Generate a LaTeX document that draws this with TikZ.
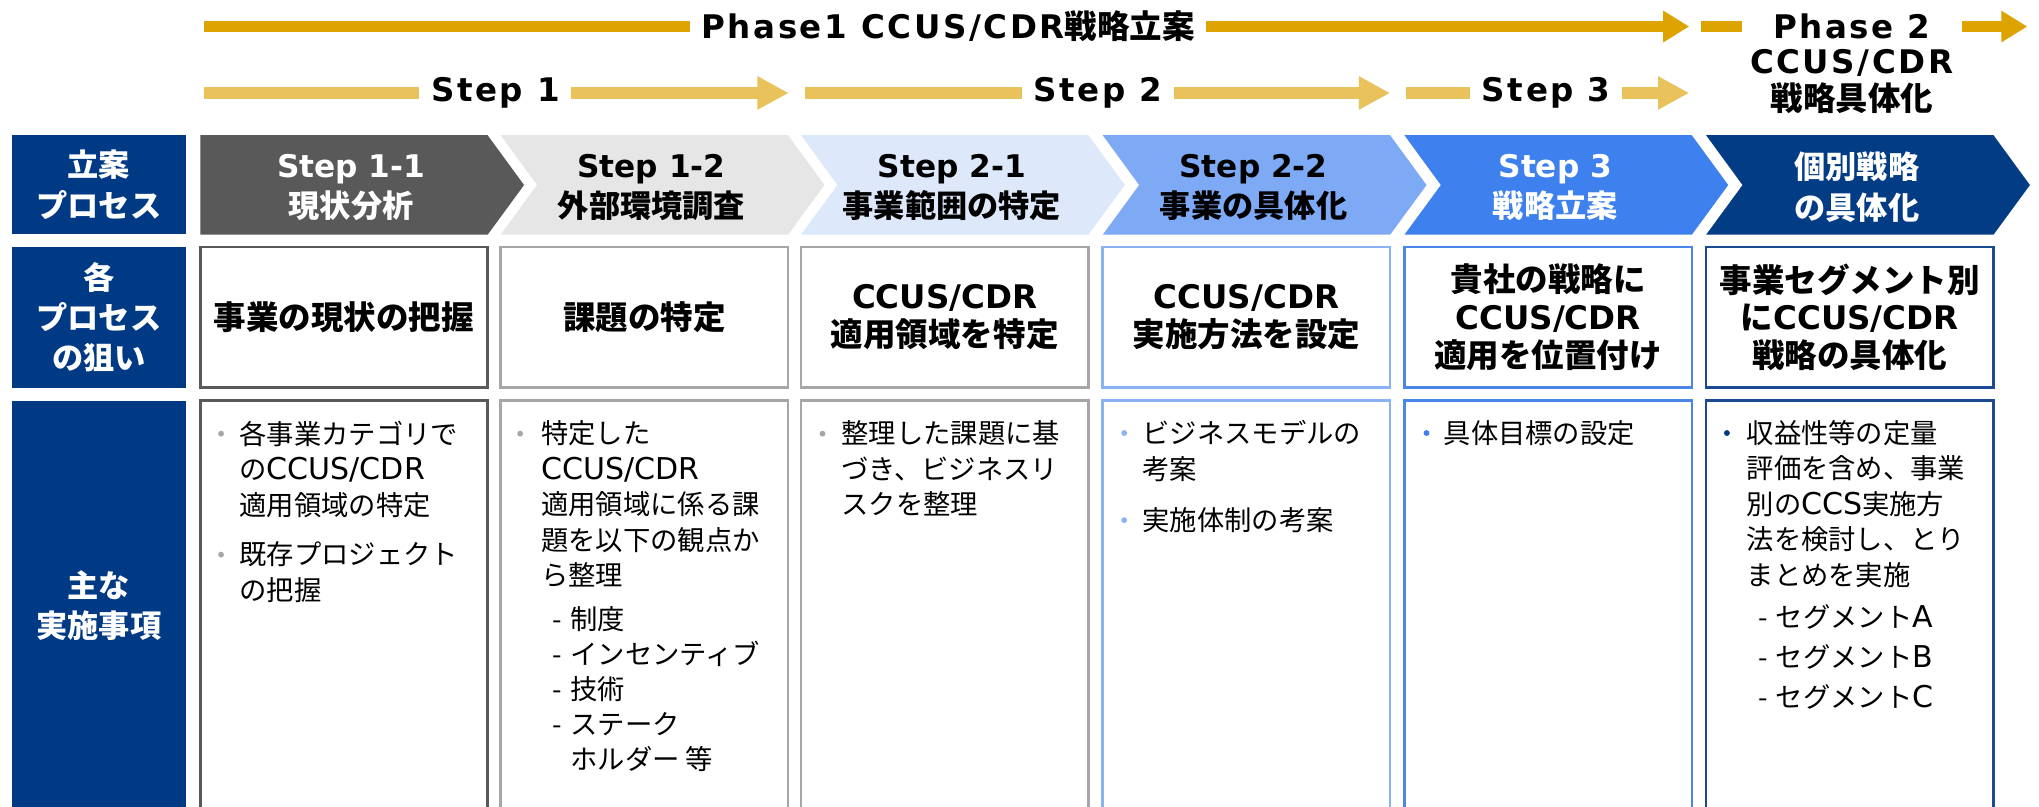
\documentclass[tikz,border=0pt]{standalone}
\usepackage{fontspec}
\setmainfont{Noto Sans CJK JP}
\newfontfamily\latfA{DejaVu Sans}[Scale=1.1]
\newfontfamily\latfB{DejaVu Sans}
\newfontfamily\latfT{DejaVu Sans}[LetterSpace=8]
\newcommand\LatA[1]{{\latfA #1}}
\newcommand\LatB[1]{{\latfB #1}}
\newcommand\LatT[1]{{\latfT #1}}
\usetikzlibrary{arrows.meta}
\definecolor{navy}{HTML}{003A85}
\definecolor{gold}{HTML}{DDA300}
\definecolor{goldl}{HTML}{E9C25C}
\definecolor{c1}{HTML}{595959}
\definecolor{c2}{HTML}{E7E6E6}
\definecolor{c3}{HTML}{DEE8FB}
\definecolor{c4}{HTML}{7EA9F4}
\definecolor{c5}{HTML}{3D80EE}
\definecolor{c6}{HTML}{023C85}
\definecolor{b1}{HTML}{595959}
\definecolor{b2}{HTML}{A6A6A6}
\definecolor{b4}{HTML}{8AB2F5}
\definecolor{b5}{HTML}{4A86E8}
\definecolor{b6}{HTML}{1C4A92}
\begin{document}
\begin{tikzpicture}[x=1pt,y=-1pt,
  lbl/.style={fill=navy, text=white, font=\bfseries\fontsize{24}{31}\selectfont, align=center, minimum width=134pt, inner sep=0pt},
  aim/.style={draw=#1, line width=2pt, fill=white, minimum width=221pt, minimum height=108pt, align=center, font=\bfseries\fontsize{25}{29}\selectfont, inner sep=0pt},
  act/.style={draw=#1, line width=2pt, minimum width=221pt, minimum height=315pt, inner sep=0pt},
  acttxt/.style={anchor=north west, inner sep=0pt, align=left, font=\fontsize{21}{27.3}\selectfont},
  bul/.style={circle, fill=#1, inner sep=0pt, minimum size=4.5pt},
  chev/.style={align=center, font=\bfseries\fontsize{24}{31}\selectfont, inner sep=0pt},
  toptxt/.style={font=\bfseries\fontsize{25}{28.3}\selectfont, inner sep=0pt, outer sep=9pt, align=center},
  gline/.style={line width=8.5pt, draw=gold},
  sline/.style={line width=8.5pt, draw=goldl},
  ghead/.style={-{Triangle[length=20pt,width=23pt]}},
  shead/.style={-{Triangle[length=24pt,width=24pt]}}
]
\useasboundingbox (0,0) rectangle (1568,620);
\fill[white] (0,0) rectangle (1568,620);
\clip (0,0) rectangle (1568,620);

% ---------- top phase / step arrows ----------
\node[toptxt] (ph1) at (729,20.4) {\LatT{Phase1 CCUS/CDR}戦略立案};
\coordinate (p1a) at (157,20.4);
\coordinate (p1d) at (1299,20.4);
\draw[gline] (p1a) -- (ph1.west);
\draw[gline, ghead] (ph1.east) -- (p1d);

\node[toptxt, outer sep=24pt] (ph2) at (1424,20.4) {\LatT{Phase 2}};
\node[toptxt] (ph2b) at (1424,63) {\LatT{CCUS/CDR}\\戦略具体化};
\coordinate (p2a) at (1308,20.4);
\coordinate (p2d) at (1559,20.4);
\draw[gline] (p2a) -- (ph2.west);
\draw[gline, ghead] (ph2.east) -- (p2d);

\node[toptxt] (st1) at (381,71.5) {\LatT{Step 1}};
\coordinate (s1a) at (157,71.5);
\coordinate (s1d) at (606.5,71.5);
\draw[sline] (s1a) -- (st1.west);
\draw[sline, shead] (st1.east) -- (s1d);

\node[toptxt] (st2) at (844,71.5) {\LatT{Step 2}};
\coordinate (s2a) at (619,71.5);
\coordinate (s2d) at (1069,71.5);
\draw[sline] (s2a) -- (st2.west);
\draw[sline, shead] (st2.east) -- (s2d);

\node[toptxt] (st3) at (1189,71.5) {\LatT{Step 3}};
\coordinate (s3a) at (1081,71.5);
\coordinate (s3d) at (1299,71.5);
\draw[sline] (s3a) -- (st3.west);
\draw[sline, shead] (st3.east) -- (s3d);

% ---------- row labels ----------
\node[lbl, minimum height=76pt] (L1) at (76,142) {立案\\プロセス};
\node[lbl, minimum height=108pt] (L2) at (76,244) {各\\プロセス\\の狙い};
\node[lbl, minimum height=315pt] (L3) at (76,465.5) {主な\\実施事項};

% ---------- chevrons ----------
\fill[c1] (154,104) -- ++(221,0) -- ++(28,38.3) -- ++(-28,38.2) -- ++(-221,0) -- cycle;
\fill[c2] (385,104) -- ++(221,0) -- ++(28,38.3) -- ++(-28,38.2) -- ++(-221,0) -- ++(28,-38.2) -- cycle;
\fill[c3] (616,104) -- ++(221,0) -- ++(28,38.3) -- ++(-28,38.2) -- ++(-221,0) -- ++(28,-38.2) -- cycle;
\fill[c4] (848,104) -- ++(221,0) -- ++(28,38.3) -- ++(-28,38.2) -- ++(-221,0) -- ++(28,-38.2) -- cycle;
\fill[c5] (1080,104) -- ++(221,0) -- ++(28,38.3) -- ++(-28,38.2) -- ++(-221,0) -- ++(28,-38.2) -- cycle;
\fill[c6] (1312,104) -- ++(221,0) -- ++(28,38.3) -- ++(-28,38.2) -- ++(-221,0) -- ++(28,-38.2) -- cycle;

\node[chev, text=white] (h1) at (270,144) {\LatB{Step 1-1}\\現状分析};
\node[chev, text=black] (h2) at (501,144) {\LatB{Step 1-2}\\外部環境調査};
\node[chev, text=black] (h3) at (732,144) {\LatB{Step 2-1}\\事業範囲の特定};
\node[chev, text=black] (h4) at (964,144) {\LatB{Step 2-2}\\事業の具体化};
\node[chev, text=white] (h5) at (1196,144) {\LatB{Step 3}\\戦略立案};
\node[chev, text=white] (h6) at (1428,144) {個別戦略\\の具体化};

% ---------- row 2: aims ----------
\node[aim=b1] (r2c1) at (264.5,244) {事業の現状の把握};
\node[aim=b2] (r2c2) at (495.5,244) {課題の特定};
\node[aim=b2] (r2c3) at (726.5,244) {\LatB{CCUS/CDR}\\適用領域を特定};
\node[aim=b4] (r2c4) at (958.5,244) {\LatB{CCUS/CDR}\\実施方法を設定};
\node[aim=b5] (r2c5) at (1190.5,244) {貴社の戦略に\\\LatB{CCUS/CDR}\\適用を位置付け};
\node[aim=b6] (r2c6) at (1422.5,244) {事業セグメント別\\に\LatB{CCUS/CDR}\\戦略の具体化};

% ---------- row 3: actions ----------
\node[act=b1] (r3c1) at (264.5,465.5) {};
\node[act=b2] (r3c2) at (495.5,465.5) {};
\node[act=b2] (r3c3) at (726.5,465.5) {};
\node[act=b4] (r3c4) at (958.5,465.5) {};
\node[act=b5] (r3c5) at (1190.5,465.5) {};
\node[act=b6] (r3c6) at (1422.5,465.5) {};

% column 1
\node[bul=b2] (u11) at (170,333.5) {};
\node[acttxt] (t11) at (184,323.5) {各事業カテゴリで\\の\LatA{CCUS/CDR}\\適用領域の特定};
\node[bul=b2] (u12) at (170,426.5) {};
\node[acttxt] (t12) at (184,416.5) {既存プロジェクト\\の把握};

% column 2
\node[bul=b2] (u21) at (400,333.5) {};
\node[acttxt] (t21) at (416,323.5) {特定した\\\LatA{CCUS/CDR}\\適用領域に係る課\\題を以下の観点か\\ら整理};
\node[acttxt, font=\fontsize{21}{26.9}\selectfont] (t22) at (425,466.5) {\makebox[13.5pt][l]{-}制度\\\makebox[13.5pt][l]{-}インセンティブ\\\makebox[13.5pt][l]{-}技術\\\makebox[13.5pt][l]{-}ステーク\\\hspace*{13.5pt}ホルダー 等};

% column 3
\node[bul=b2] (u31) at (632.5,333.5) {};
\node[acttxt] (t31) at (647,323.5) {整理した課題に基\\づき、ビジネスリ\\スクを整理};

% column 4
\node[bul=b4] (u41) at (864.5,333) {};
\node[acttxt] (t41) at (878.5,323) {ビジネスモデルの\\考案};
\node[bul=b4] (u42) at (864.5,400) {};
\node[acttxt] (t42) at (878.5,390) {実施体制の考案};

% column 5
\node[bul=c5] (u51) at (1097,333) {};
\node[acttxt] (t51) at (1110,323) {具体目標の設定};

% column 6
\node[bul=navy] (u61) at (1328,333) {};
\node[acttxt] (t61) at (1343,323) {収益性等の定量\\評価を含め、事業\\別の\LatA{CCS}実施方\\法を検討し、とり\\まとめを実施};
\node[acttxt, font=\fontsize{21}{31}\selectfont] (t62) at (1352,464.5) {\makebox[13.5pt][l]{-}セグメント\LatA{A}\\\makebox[13.5pt][l]{-}セグメント\LatA{B}\\\makebox[13.5pt][l]{-}セグメント\LatA{C}};
\end{tikzpicture}
\end{document}
